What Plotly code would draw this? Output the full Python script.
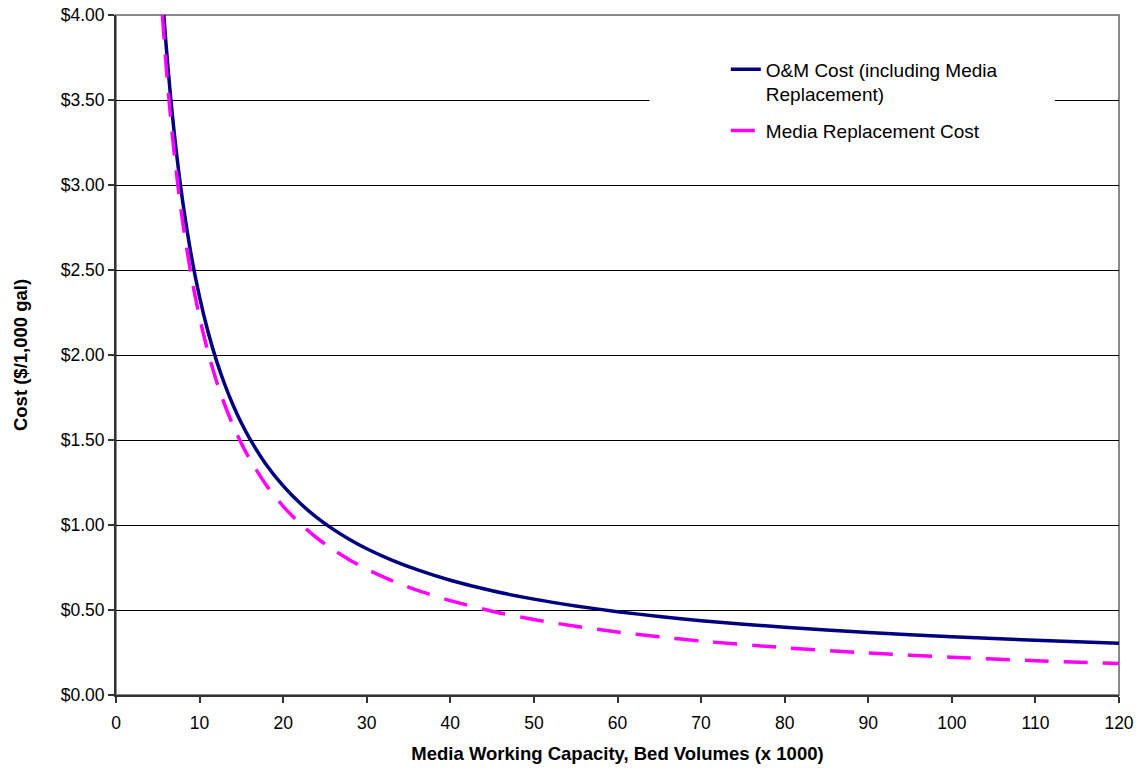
import plotly.graph_objects as go

# Bed volumes (x 1000) and cost ($ per 1,000 gal) for each curve
om_capacity = [5.72, 6, 6.5, 7, 7.5, 8, 9, 10, 11, 12, 13, 14, 15, 16, 18, 20, 22, 24, 26, 28,
               30, 33, 36, 40, 45, 50, 55, 60, 65, 70, 80, 90, 100, 110, 120]
om_cost = [4.000, 3.820, 3.535, 3.291, 3.080, 2.895, 2.587, 2.340, 2.138, 1.970, 1.828, 1.706,
           1.600, 1.508, 1.353, 1.230, 1.129, 1.045, 0.974, 0.913, 0.860, 0.793, 0.737, 0.675,
           0.613, 0.564, 0.524, 0.490, 0.462, 0.437, 0.398, 0.367, 0.342, 0.322, 0.305]

media_capacity = [5.55, 6, 6.5, 7, 7.5, 8, 9, 10, 11, 12, 13, 14, 15, 16, 18, 20, 22, 24, 26, 28,
                  30, 33, 36, 40, 45, 50, 55, 60, 65, 70, 80, 90, 100, 110, 120]
media_cost = [4.000, 3.700, 3.415, 3.171, 2.960, 2.775, 2.467, 2.220, 2.018, 1.850, 1.708, 1.586,
              1.480, 1.388, 1.233, 1.110, 1.009, 0.925, 0.854, 0.793, 0.740, 0.673, 0.617, 0.555,
              0.493, 0.444, 0.404, 0.370, 0.342, 0.317, 0.278, 0.247, 0.222, 0.202, 0.185]

om_name = "O&M Cost (including Media<br>Replacement)"
media_name = "Media Replacement Cost"

FONT = "Arial, Liberation Sans, sans-serif"

fig = go.Figure()
fig.add_trace(go.Scatter(
    x=om_capacity, y=om_cost, name=om_name, mode="lines", legendgroup="om",
    line=dict(color="#000080", width=3.5, shape="spline", smoothing=0.6),
))
fig.add_trace(go.Scatter(
    x=media_capacity, y=media_cost, name=media_name, mode="lines", legendgroup="media",
    line=dict(color="#FF00FF", width=3.5, dash="24px,15px", shape="spline", smoothing=0.6),
))

# plot-area frame (grey top and right edges)
fig.add_shape(type="rect", xref="paper", yref="paper", x0=0, x1=1, y0=0, y1=1,
              line=dict(color="#8a8a8a", width=2), layer="below")
# white panel behind the legend
fig.add_shape(type="rect", xref="paper", yref="paper", x0=0.532, x1=0.936, y0=0.80, y1=0.95,
              line=dict(width=0), fillcolor="white", layer="above")

fig.update_layout(
    width=1141, height=770,
    margin=dict(l=116, r=22, t=15, b=75),
    paper_bgcolor="white", plot_bgcolor="white",
    font=dict(family=FONT, size=17.5, color="black"),
    showlegend=True,
    legend=dict(
        x=0.608, y=0.948, xanchor="left", yanchor="top",
        bgcolor="rgba(0,0,0,0)", borderwidth=0,
        font=dict(family=FONT, size=19, color="black"),
        valign="top", traceorder="grouped", tracegroupgap=9,
    ),
    xaxis=dict(
        range=[0, 120], dtick=10, tick0=0,
        showgrid=False, zeroline=False,
        showline=True, linecolor="#333333", linewidth=2,
        ticks="outside", ticklen=6, tickwidth=1.5, tickcolor="#333333",
        ticklabelstandoff=5,
        title=dict(text="<b>Media Working Capacity, Bed Volumes (x 1000)</b>",
                   font=dict(family=FONT, size=18.5, color="black"), standoff=15),
        automargin=False,
    ),
    yaxis=dict(
        range=[0, 4], dtick=0.5, tick0=0,
        tickprefix="$", tickformat=".2f",
        showgrid=True, gridcolor="black", gridwidth=1,
        zeroline=False,
        showline=True, linecolor="#333333", linewidth=2,
        ticks="outside", ticklen=6, tickwidth=1.5, tickcolor="#333333",
        title=dict(text="<b>Cost ($/1,000 gal)</b>",
                   font=dict(family=FONT, size=18.5, color="black"), standoff=28),
        automargin=False,
    ),
)

fig.write_html("out.html")
